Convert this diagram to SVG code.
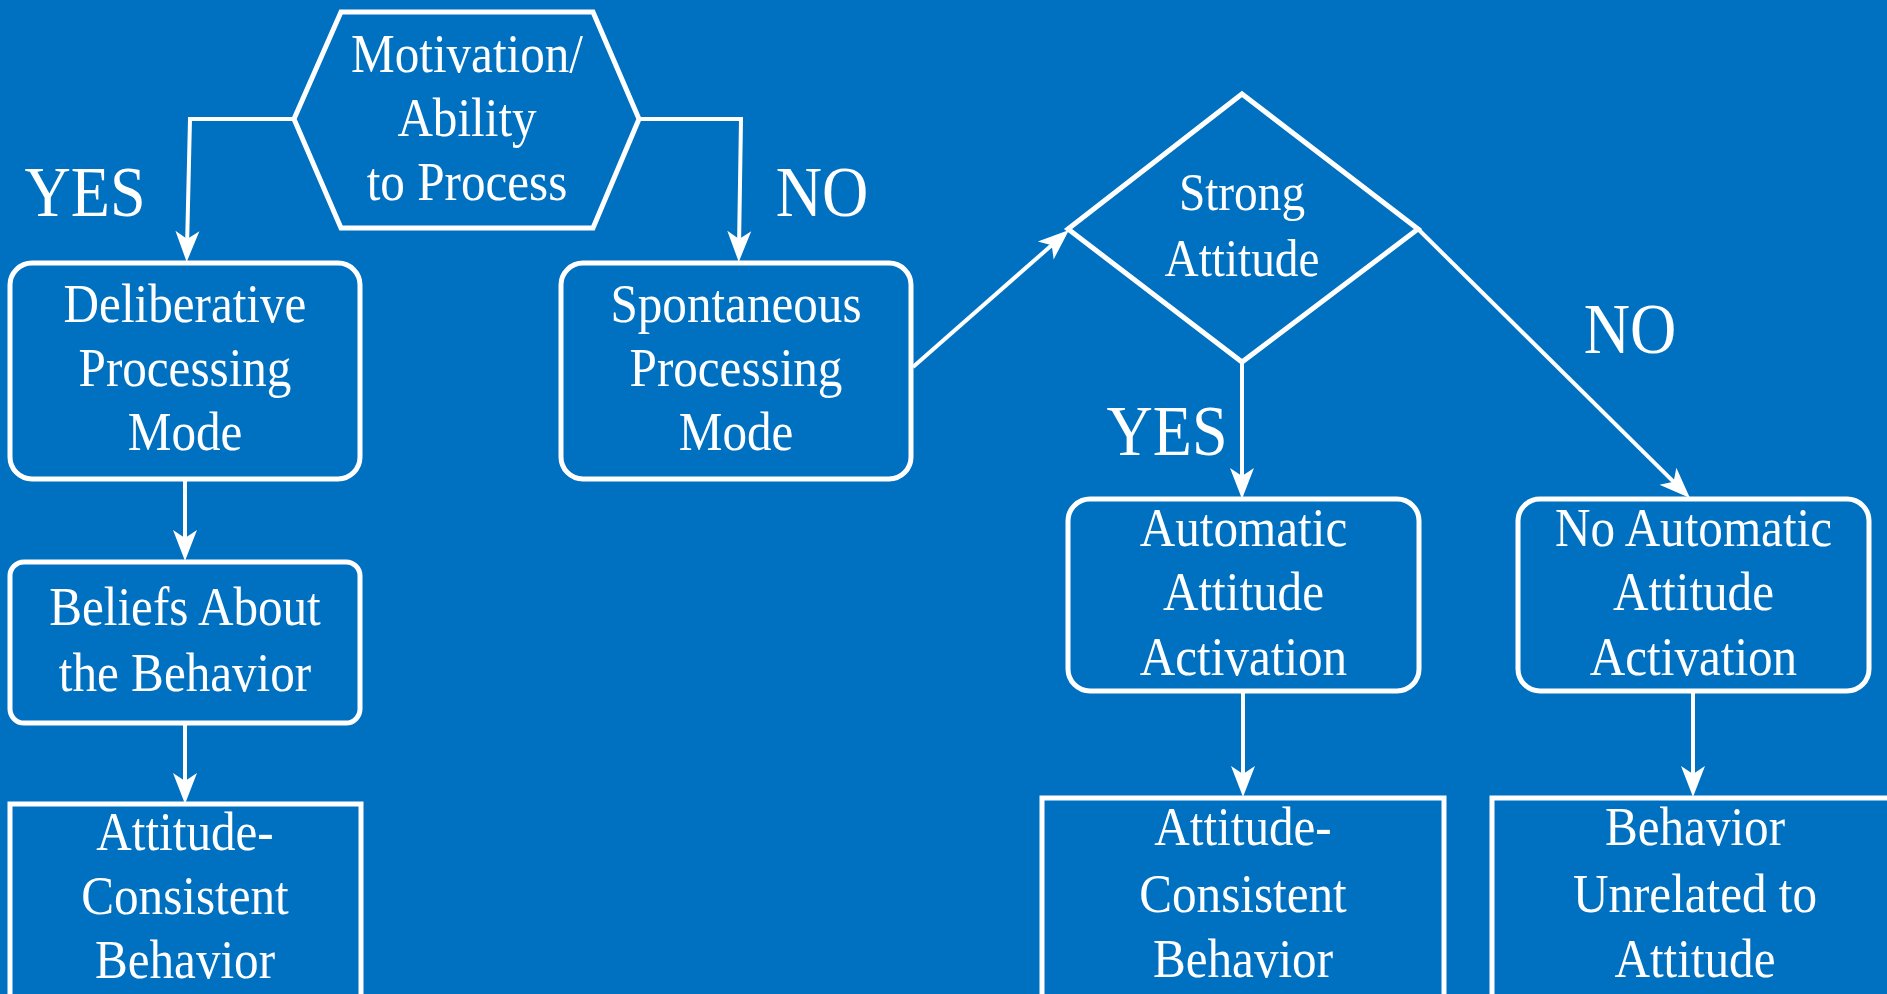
<svg xmlns="http://www.w3.org/2000/svg" width="1887" height="994" viewBox="0 0 1887 994">
<defs>
<style>
.bg{fill:#0070C0}
.node{fill:none;stroke:#fff;stroke-width:5;stroke-linejoin:miter}
.conn{fill:none;stroke:#fff;stroke-width:4;marker-end:url(#ah)}
.t{font-family:"Liberation Serif","Times New Roman",serif;font-size:54px;fill:#fff;text-anchor:middle}
.lbl{font-family:"Liberation Serif","Times New Roman",serif;font-size:72px;fill:#fff;text-anchor:middle}
</style>
<marker id="ah" markerUnits="userSpaceOnUse" markerWidth="34" markerHeight="28" viewBox="-32 -14 34 28" refX="-14" refY="0" orient="auto" overflow="visible">
<path d="M0,0 L-31,-12 L-23,0 L-31,12 Z" fill="#fff"/>
</marker>
</defs>
<rect class="bg" x="0" y="0" width="1887" height="994"/>

<g id="connectors">
<polyline class="conn" points="294,119 190,119 187,248"/>
<polyline class="conn" points="639,119 741,119 739,248"/>
<line class="conn" x1="185" y1="479" x2="185" y2="547"/>
<line class="conn" x1="185" y1="723" x2="185" y2="790"/>
<line class="conn" x1="913" y1="367" x2="1058.5" y2="239.2"/>
<line class="conn" x1="1242" y1="363" x2="1242" y2="485"/>
<line class="conn" x1="1417" y1="228" x2="1680" y2="488.2"/>
<line class="conn" x1="1243" y1="692" x2="1243" y2="783"/>
<line class="conn" x1="1693" y1="692" x2="1693" y2="783"/>
</g>

<g id="labels">
<text class="lbl" transform="translate(85,0) scale(0.89,1)" x="0" y="216">YES</text>
<text class="lbl" transform="translate(822,0) scale(0.89,1)" x="0" y="216">NO</text>
<text class="lbl" transform="translate(1167,0) scale(0.89,1)" x="0" y="455">YES</text>
<text class="lbl" transform="translate(1630,0) scale(0.89,1)" x="0" y="353">NO</text>
</g>

<g id="motivation">
<polygon class="node" points="341,12 593,12 639,119 593,228 341,228 294,119"/>
<text class="t" transform="translate(467,0) scale(0.91,1)"><tspan x="0" y="72">Motivation/</tspan><tspan x="0" y="136">Ability</tspan><tspan x="0" y="200">to Process</tspan></text>
</g>

<g id="deliberative">
<rect class="node" x="10" y="263" width="350" height="216" rx="22"/>
<text class="t" transform="translate(185,0) scale(0.91,1)"><tspan x="0" y="322">Deliberative</tspan><tspan x="0" y="386">Processing</tspan><tspan x="0" y="450">Mode</tspan></text>
</g>

<g id="spontaneous">
<rect class="node" x="561" y="263" width="350" height="216" rx="22"/>
<text class="t" transform="translate(736,0) scale(0.91,1)"><tspan x="0" y="322">Spontaneous</tspan><tspan x="0" y="386">Processing</tspan><tspan x="0" y="450">Mode</tspan></text>
</g>

<g id="beliefs">
<rect class="node" x="10" y="562" width="350" height="161" rx="14"/>
<text class="t" transform="translate(185,0) scale(0.91,1)"><tspan x="0" y="625">Beliefs About</tspan><tspan x="0" y="691">the Behavior</tspan></text>
</g>

<g id="consistent-left">
<rect class="node" x="10" y="804" width="351" height="210"/>
<text class="t" transform="translate(185,0) scale(0.91,1)"><tspan x="0" y="850">Attitude-</tspan><tspan x="0" y="914">Consistent</tspan><tspan x="0" y="978">Behavior</tspan></text>
</g>

<g id="strong">
<polygon class="node" points="1242,94 1418,229 1242,362 1068,229"/>
<text class="t" transform="translate(1242,0) scale(0.91,1)" style="font-size:52px"><tspan x="0" y="210">Strong</tspan><tspan x="0" y="276">Attitude</tspan></text>
</g>

<g id="automatic">
<rect class="node" x="1068" y="499" width="351" height="192" rx="22"/>
<text class="t" transform="translate(1243.5,0) scale(0.91,1)"><tspan x="0" y="546">Automatic</tspan><tspan x="0" y="610">Attitude</tspan><tspan x="0" y="675">Activation</tspan></text>
</g>

<g id="no-automatic">
<rect class="node" x="1518" y="499" width="351" height="192" rx="22"/>
<text class="t" transform="translate(1693.5,0) scale(0.91,1)"><tspan x="0" y="546">No Automatic</tspan><tspan x="0" y="610">Attitude</tspan><tspan x="0" y="675">Activation</tspan></text>
</g>

<g id="consistent-right">
<rect class="node" x="1042" y="798" width="402" height="210"/>
<text class="t" transform="translate(1243,0) scale(0.91,1)"><tspan x="0" y="845">Attitude-</tspan><tspan x="0" y="912">Consistent</tspan><tspan x="0" y="977">Behavior</tspan></text>
</g>

<g id="unrelated">
<rect class="node" x="1492" y="798" width="420" height="210"/>
<text class="t" transform="translate(1695,0) scale(0.91,1)"><tspan x="0" y="845">Behavior</tspan><tspan x="0" y="912">Unrelated to</tspan><tspan x="0" y="977">Attitude</tspan></text>
</g>
</svg>
